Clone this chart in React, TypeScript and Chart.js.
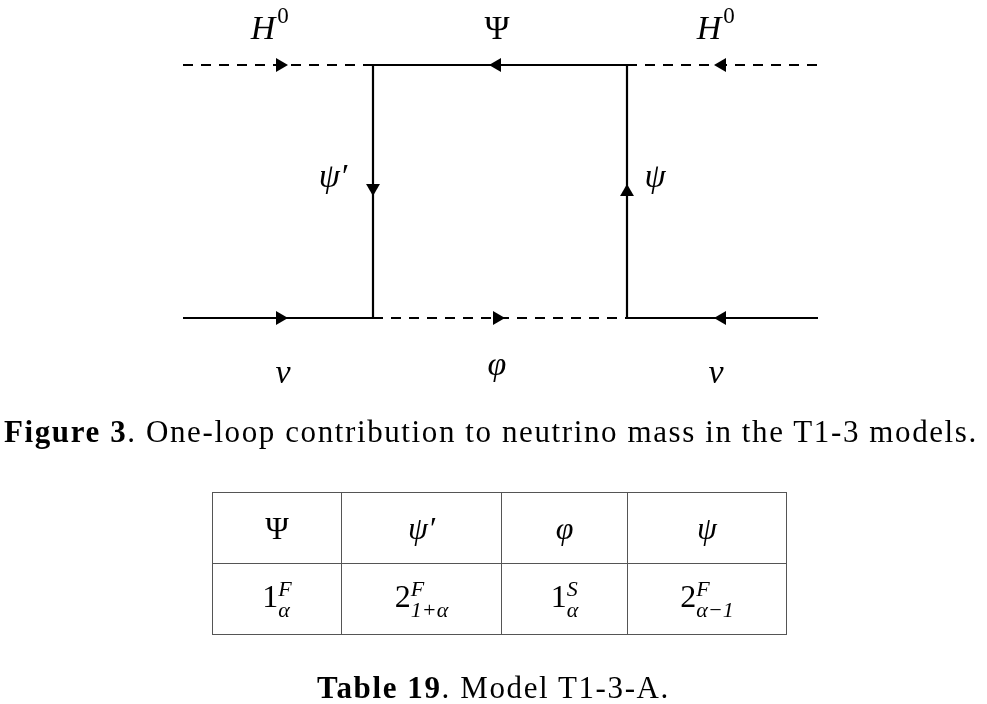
import React, { useEffect, useRef } from 'react';
import { Chart, registerables } from 'chart.js';

Chart.register(...registerables);

// line segments of the diagram: [x1, y1, x2, y2, dashed]
const segments: [number, number, number, number, boolean][] = [
  [183, 65, 373, 65, true],
  [373, 65, 627, 65, false],
  [627, 65, 818, 65, true],
  [373, 65, 373, 318, false],
  [627, 65, 627, 318, false],
  [183, 318, 373, 318, false],
  [373, 318, 627, 318, true],
  [627, 318, 818, 318, false],
];

// arrow heads: [x, y, rotation]
const arrows: [number, number, number][] = [
  [280, 65, 90], [497, 65, 270], [722, 65, 270],
  [373, 188, 180], [627, 192, 0],
  [280, 318, 90], [497, 318, 90], [722, 318, 270],
];

// labels: [x, y, base, superscript]
const labels: [number, number, string, string][] = [
  [270, 30, 'H', '0'], [497, 30, 'Ψ', ''], [716, 30, 'H', '0'],
  [333, 178, 'ψ′', ''], [655, 178, 'ψ', ''],
  [283, 374, 'ν', ''], [497, 366, 'φ', ''], [716, 374, 'ν', ''],
];

const headRow = ['Ψ', 'ψ′', 'φ', 'ψ'];
const bodyRow: [string, string, string][] = [
  ['1', 'F', 'α'], ['2', 'F', '1+α'], ['1', 'S', 'α'], ['2', 'F', 'α−1'],
];
const colWidths = [128, 159, 125, 158];

const labelPlugin = {
  id: 'labels',
  afterDraw(chart: any) {
    const { ctx, scales } = chart;
    ctx.save();
    ctx.fillStyle = '#000';
    ctx.textBaseline = 'middle';
    labels.forEach(([x, y, base, sup]) => {
      const px = scales.x.getPixelForValue(x);
      const py = scales.y.getPixelForValue(y);
      ctx.font = (base === 'Ψ' ? '' : 'italic ') + '34px "Liberation Serif"';
      const w = ctx.measureText(base).width;
      const sw = sup ? 14 : 0;
      ctx.textAlign = 'left';
      ctx.fillText(base, px - (w + sw) / 2, py);
      if (sup) {
        ctx.font = '23px "Liberation Serif"';
        ctx.fillText(sup, px - (w + sw) / 2 + w + 2, py - 13);
      }
    });
    ctx.restore();
  },
};

export default function App() {
  const ref = useRef<HTMLCanvasElement>(null);

  useEffect(() => {
    if (!ref.current) return;
    const datasets: any[] = segments.map(([x1, y1, x2, y2, dashed]) => ({
      data: [{ x: x1, y: y1 }, { x: x2, y: y2 }],
      showLine: true,
      borderColor: '#000',
      borderWidth: 2.2,
      borderDash: dashed ? [10, 8] : [],
      pointRadius: 0,
    }));
    datasets.push({
      data: arrows.map(([x, y]) => ({ x, y })),
      showLine: false,
      pointStyle: 'triangle',
      rotation: arrows.map((a) => a[2]),
      pointRadius: 8,
      backgroundColor: '#000',
      borderColor: '#000',
      borderWidth: 0,
    });
    const chart = new Chart(ref.current, {
      type: 'scatter',
      data: { datasets },
      options: {
        animation: false,
        responsive: false,
        events: [],
        layout: { padding: 0, autoPadding: false },
        plugins: { legend: { display: false }, tooltip: { enabled: false } },
        scales: {
          x: { type: 'linear', min: 0, max: 987, display: false },
          y: { type: 'linear', min: 0, max: 704, reverse: true, display: false },
        },
      },
      plugins: [labelPlugin],
    });
    return () => chart.destroy();
  }, []);

  const cell: React.CSSProperties = {
    border: '1.5px solid #555',
    textAlign: 'center',
    padding: 0,
    height: 70,
  };

  return (
    <div style={{ position: 'fixed', left: 0, top: 0, width: 987, height: 704, background: '#fff', fontFamily: '"Liberation Serif", serif', color: '#000' }}>
      <canvas ref={ref} width={987} height={704} style={{ position: 'absolute', left: 0, top: 0 }} />
      <div style={{ position: 'absolute', left: 4, top: 414, fontSize: 31, letterSpacing: 1.6, whiteSpace: 'nowrap' }}>
        <b>Figure 3</b>. One-loop contribution to neutrino mass in the T1-3 models.
      </div>
      <table style={{ position: 'absolute', left: 212, top: 492, borderCollapse: 'collapse', fontSize: 32 }}>
        <tbody>
          <tr>
            {headRow.map((h, i) => (
              <td key={i} style={{ ...cell, width: colWidths[i], fontStyle: h === 'Ψ' ? 'normal' : 'italic' }}>{h}</td>
            ))}
          </tr>
          <tr>
            {bodyRow.map(([n, sup, sub], i) => (
              <td key={i} style={{ ...cell, width: colWidths[i] }}>
                {n}
                <span style={{ display: 'inline-flex', flexDirection: 'column', verticalAlign: 'middle', fontSize: 22, fontStyle: 'italic', lineHeight: '21px', textAlign: 'left' }}>
                  <span>{sup}</span>
                  <span>{sub}</span>
                </span>
              </td>
            ))}
          </tr>
        </tbody>
      </table>
      <div style={{ position: 'absolute', left: 0, width: 987, top: 670, textAlign: 'center', fontSize: 31, letterSpacing: 1.6 }}>
        <b>Table 19</b>. Model T1-3-A.
      </div>
    </div>
  );
}
